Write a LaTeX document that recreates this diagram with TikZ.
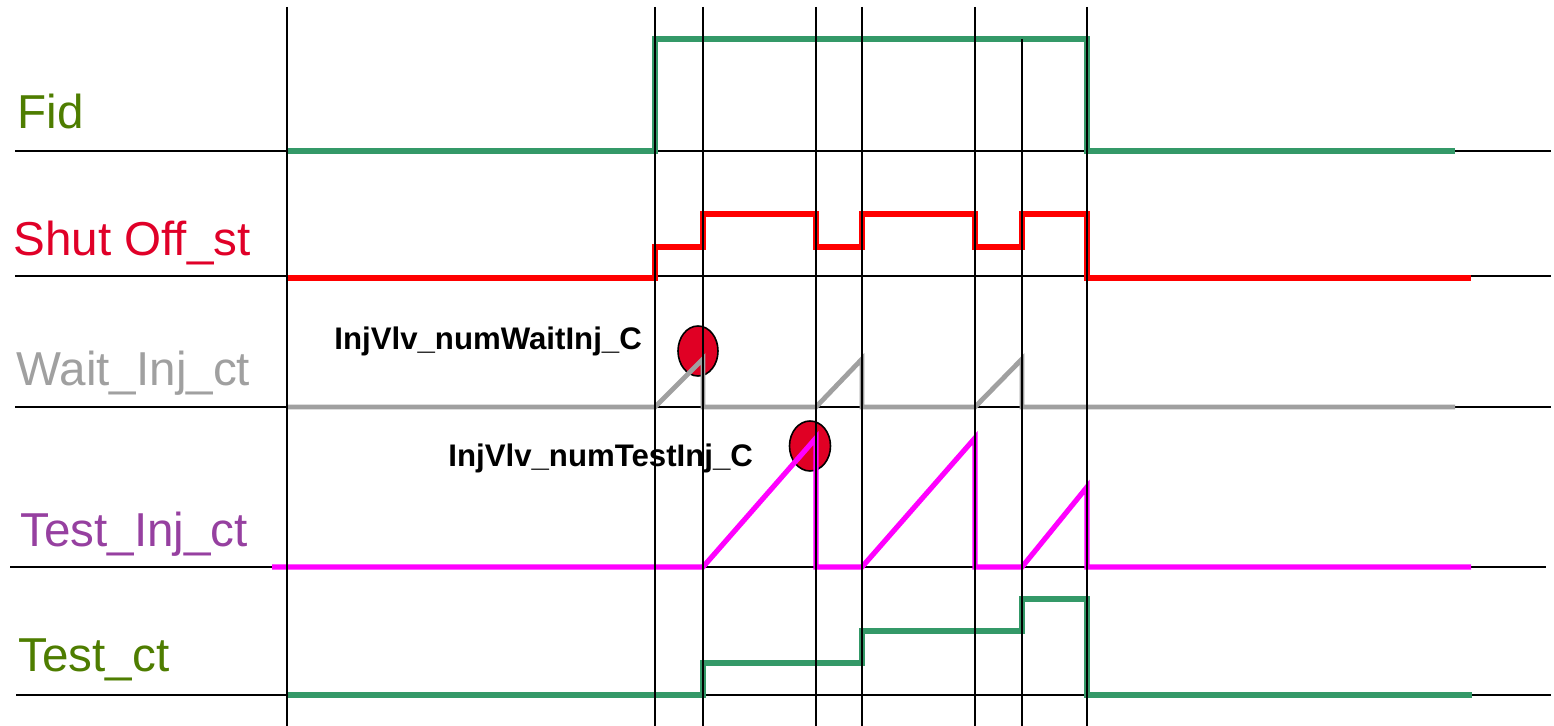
\documentclass[tikz,border=0pt]{standalone}
\usepackage{fontspec}
\setmainfont{Liberation Sans}
\begin{document}
\begin{tikzpicture}[x=0.5pt,y=-0.5pt,
  grid/.style={black,line width=1pt},
  siggreen/.style={color={rgb,255:red,52;green,153;blue,104},line width=2.7pt,line join=miter},
  sigred/.style={color={rgb,255:red,255;green,0;blue,0},line width=2.9pt,line join=miter},
  siggray/.style={color={rgb,255:red,160;green,160;blue,160},line width=2.4pt,line join=miter},
  sigmag/.style={color={rgb,255:red,255;green,0;blue,255},line width=2.6pt,line join=miter},
  marker/.style={draw=black,line width=0.8pt,fill={rgb,255:red,224;green,0;blue,36}},
  siglabel/.style={anchor=base west,inner sep=0pt,font=\fontsize{23.8}{28}\selectfont},
  annot/.style={anchor=base west,inner sep=0pt,font=\bfseries\fontsize{15.6}{18}\selectfont}
]
\useasboundingbox (0,0) rectangle (1554,726);
% horizontal grid lines
\draw[grid] (15,151) -- (1551,151);
\draw[grid] (15,276) -- (1551,276);
\draw[grid] (15,407) -- (1551,407);
\draw[grid] (10,567) -- (1546,567);
\draw[grid] (16,695) -- (1551,695);
% markers
\draw[marker] (698,351) ellipse [x radius=20, y radius=25];
\draw[marker] (810,446) ellipse [x radius=20.5, y radius=25];
% Fid
\draw[siggreen] (287,151) -- (655,151) -- (655,39) -- (1087,39) -- (1087,151) -- (1455,151);
% Shut Off_st
\draw[sigred] (287,278) -- (655,278) -- (655,247) -- (703,247) -- (703,214) -- (816,214) -- (816,247)
  -- (862,247) -- (862,214) -- (975,214) -- (975,247) -- (1022,247) -- (1022,214) -- (1087,214)
  -- (1087,278) -- (1471,278);
% Wait_Inj_ct
\draw[siggray] (287,407) -- (655,407) -- (703,359) -- (703,407) -- (816,407) -- (862,359) -- (862,407)
  -- (975,407) -- (1022,359) -- (1022,407) -- (1455,407);
% Test_Inj_ct
\draw[sigmag] (272,567) -- (703,567) -- (816,438) -- (816,567) -- (862,567) -- (975,438) -- (975,567)
  -- (1022,567) -- (1087,487) -- (1087,567) -- (1471,567);
% Test_ct
\draw[siggreen] (287,695) -- (703,695) -- (703,663) -- (862,663) -- (862,631) -- (1022,631) -- (1022,599)
  -- (1087,599) -- (1087,695) -- (1472,695);
% vertical grid lines
\foreach \xx in {287,655,703,816,862,975,1087} {\draw[grid] (\xx,7) -- (\xx,726);}
\draw[grid] (1022,39) -- (1022,726);
% labels
\node[siglabel,text={rgb,255:red,78;green,125;blue,0}] (fid) at (17,129) {Fid};
\node[siglabel,text={rgb,255:red,224;green,0;blue,40}] (shut) at (13,256) {Shut Off\_st};
\node[siglabel,text={rgb,255:red,160;green,160;blue,160}] (wait) at (16,386) {Wait\_Inj\_ct};
\node[siglabel,text={rgb,255:red,150;green,64;blue,160}] (testinj) at (20,547) {Test\_Inj\_ct};
\node[siglabel,text={rgb,255:red,78;green,125;blue,0}] (testct) at (18,672) {Test\_ct};
\node[annot] (waitc) at (334,350) {InjVlv\_numWaitInj\_C};
\node[annot] (testc) at (448,467) {InjVlv\_numTestInj\_C};
\end{tikzpicture}
\end{document}
